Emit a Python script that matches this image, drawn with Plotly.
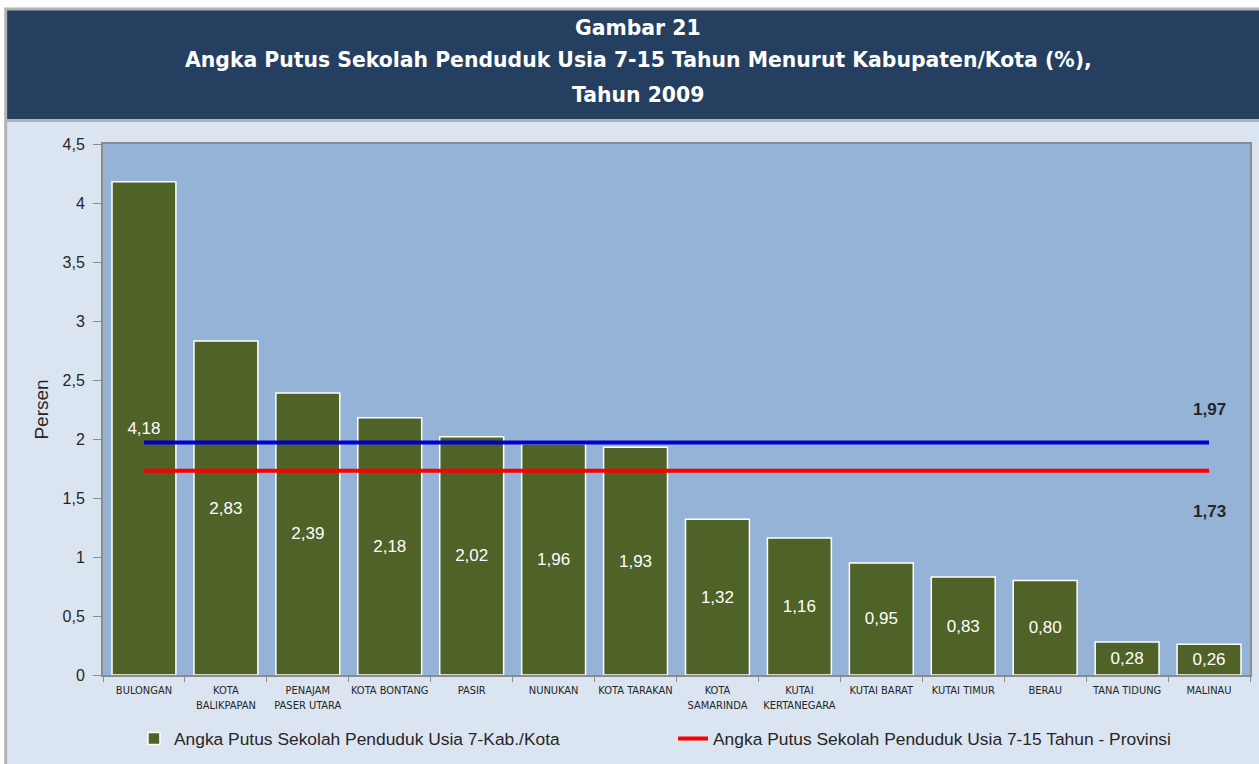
import plotly.graph_objects as go

categories = ["BULONGAN", "KOTA<br>BALIKPAPAN", "PENAJAM<br>PASER UTARA", "KOTA BONTANG", "PASIR",
              "NUNUKAN", "KOTA TARAKAN", "KOTA<br>SAMARINDA", "KUTAI<br>KERTANEGARA", "KUTAI BARAT",
              "KUTAI TIMUR", "BERAU", "TANA TIDUNG", "MALINAU"]
values = [4.18, 2.83, 2.39, 2.18, 2.02, 1.96, 1.93, 1.32, 1.16, 0.95, 0.83, 0.80, 0.28, 0.26]
prov_line_blue = 1.97
prov_line_red = 1.73
yticks = [0, 0.5, 1, 1.5, 2, 2.5, 3, 3.5, 4, 4.5]
title_lines = ["Gambar 21",
               "Angka Putus Sekolah Penduduk Usia 7-15 Tahun Menurut Kabupaten/Kota (%),",
               "Tahun 2009"]

W, H = 1259, 764
ML, MR, MT, MB = 103, 7, 144, 87
pw = W - ML - MR
ph = H - MT - MB

def px(x):
    return (x - ML) / pw

def py(y):
    return (H - MB - y) / ph

fig = go.Figure()
fig.add_trace(go.Bar(
    x=categories, y=values,
    name="Angka Putus Sekolah Penduduk Usia 7-Kab./Kota",
    marker=dict(color="#4F6228", line=dict(color="white", width=1.5)),
    texttemplate="%{y:.2f}", textposition="inside", insidetextanchor="middle",
    textfont=dict(color="white", size=17, family="Liberation Sans, Arial"),
    width=0.78, legend="legend",
))
fig.add_trace(go.Scatter(
    x=categories, y=[prov_line_blue] * len(categories), mode="lines",
    line=dict(color="#0000CC", width=4), showlegend=False, hoverinfo="skip",
))
fig.add_trace(go.Scatter(
    x=categories, y=[prov_line_red] * len(categories), mode="lines",
    name="Angka Putus Sekolah Penduduk Usia 7-15 Tahun - Provinsi",
    line=dict(color="#FF0000", width=4), legend="legend2",
))

shapes = [
    dict(type="rect", xref="paper", yref="paper", x0=px(4), x1=px(W + 5), y0=py(H + 5), y1=py(7),
         fillcolor="#B3B3B3", line=dict(width=0), layer="below"),
    dict(type="rect", xref="paper", yref="paper", x0=px(7), x1=px(W + 5), y0=py(H + 5), y1=py(122),
         fillcolor="#DBE5F1", line=dict(width=0), layer="below"),
    dict(type="rect", xref="paper", yref="paper", x0=px(7), x1=px(W + 5), y0=py(119), y1=py(10),
         fillcolor="#243F60", line=dict(width=0), layer="below"),
    dict(type="rect", xref="paper", yref="paper", x0=0, x1=1, y0=0, y1=1,
         fillcolor="#95B3D7", line=dict(width=0), layer="below"),
]

title_y = [28, 60, 95]
annotations = [
    dict(xref="paper", yref="paper", x=px(639), y=py(ty), xanchor="center", yanchor="middle",
         showarrow=False, text="<b>%s</b>" % t,
         font=dict(color="white", size=20.4, family="DejaVu Sans"))
    for t, ty in zip(title_lines, title_y)
]
annotations += [
    dict(x=categories[-1], y=prov_line_blue, yshift=33, showarrow=False, text="<b>1,97</b>",
         font=dict(size=17, color="#262626", family="Liberation Sans, Arial")),
    dict(x=categories[-1], y=prov_line_red, yshift=-41, showarrow=False, text="<b>1,73</b>",
         font=dict(size=17, color="#262626", family="Liberation Sans, Arial")),
]

fig.update_layout(
    width=W, height=H,
    margin=dict(l=ML, r=MR, t=MT, b=MB),
    paper_bgcolor="white", plot_bgcolor="#95B3D7",
    separators=",.",
    shapes=shapes, annotations=annotations,
    bargap=0.22,
    uniformtext=dict(minsize=17, mode="show"),
    font=dict(family="Liberation Sans, Arial", color="#262626"),
    legend=dict(orientation="h", x=px(134), xanchor="left", y=py(741), yanchor="middle",
                font=dict(size=17.4, color="#262626"), bgcolor="rgba(0,0,0,0)"),
    legend2=dict(orientation="h", x=px(674), xanchor="left", y=py(741), yanchor="middle",
                 font=dict(size=17.4, color="#262626"), bgcolor="rgba(0,0,0,0)"),
    xaxis=dict(showline=True, linecolor="#8C8C8C", linewidth=2, mirror=True,
               ticks="outside", tickson="boundaries", ticklen=5, tickcolor="#8C8C8C",
               tickangle=0, ticklabelstandoff=4,
               tickfont=dict(size=11, family="Liberation Sans Narrow, DejaVu Sans Condensed, Liberation Sans, Arial",
                             color="#262626"),
               fixedrange=True),
    yaxis=dict(range=[0, 4.5], tickvals=yticks, tickformat="~g",
               showline=True, linecolor="#8C8C8C", linewidth=2, mirror=True,
               ticks="outside", ticklen=8, tickcolor="#8C8C8C", ticklabelstandoff=5,
               showgrid=False, zeroline=False,
               tickfont=dict(size=16, color="#262626"),
               title=dict(text="Persen", font=dict(size=19, color="#262626"), standoff=9)),
)

fig.write_html("out.html", config={"displayModeBar": False},
               post_script="document.body.style.margin='0';document.body.style.overflow='hidden';")
